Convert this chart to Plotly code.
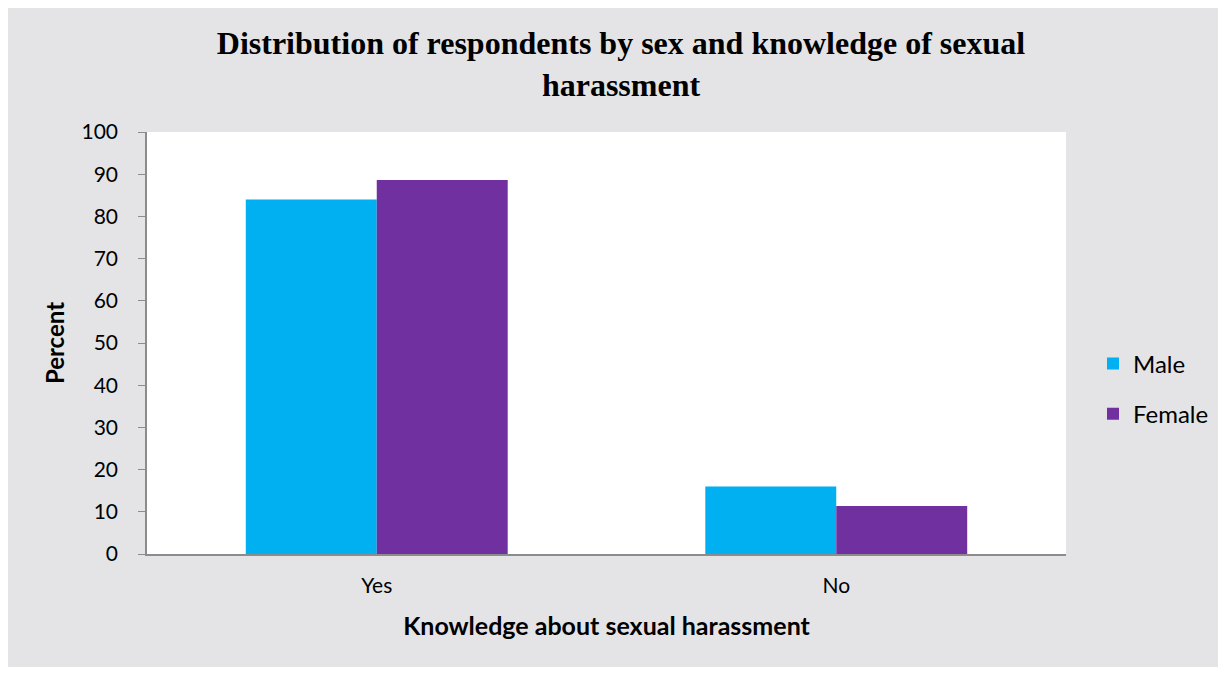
import plotly.graph_objects as go

categories = ["Yes", "No"]
male = [84.0, 16.0]
female = [88.6, 11.4]
y_ticks = list(range(0, 101, 10))

# page has an 8px body margin; keep the figure inside the window (no scrollbars)
OFF = 8
W, H = 1210, 659
L, R, T, B = 147 - OFF, (OFF + W) - 1066, 132 - OFF, (OFF + H) - 554

fig = go.Figure()
fig.add_trace(go.Bar(name="Male", x=categories, y=male, marker_color="#00b0f0",
                     marker_line_width=0, legendgroup="m"))
fig.add_trace(go.Bar(name="Female", x=categories, y=female, marker_color="#7030a0",
                     marker_line_width=0, legendgroup="f"))

fig.update_layout(
    width=W, height=H,
    margin=dict(l=L, r=R, t=T, b=B, autoexpand=False),
    paper_bgcolor="#e4e4e7",
    plot_bgcolor="white",
    barmode="group",
    bargap=0.43,
    bargroupgap=0,
    title=dict(
        text="<b>Distribution of respondents by sex and knowledge of sexual<br>harassment</b>",
        font=dict(family="Liberation Serif", size=32, color="black"),
        x=(621 - OFF) / W, xanchor="center",
        y=1 - (54 - OFF) / H, yanchor="middle",
    ),
    font=dict(family="Lato", size=21, color="black"),
    xaxis=dict(
        title=dict(text="<b>Knowledge about sexual harassment</b>", font=dict(size=25), standoff=22),
        showline=True, linecolor="#8c8c8c", linewidth=1.5,
        ticks="outside", ticklen=12, tickcolor="rgba(0,0,0,0)", tickfont=dict(size=21),
    ),
    yaxis=dict(
        title=dict(text="<b>Percent</b>", font=dict(size=24), standoff=10),
        range=[0, 100], tickvals=y_ticks,
        showline=True, linecolor="#8c8c8c", linewidth=1.5,
        ticks="outside", ticklen=7, tickcolor="#8c8c8c", ticklabelstandoff=16,
        showgrid=False, zeroline=False, tickfont=dict(size=21),
    ),
    legend=dict(xref="container", yref="container",
                x=(1093 - OFF) / W, y=1 - (389 - OFF) / H, xanchor="left", yanchor="middle",
                font=dict(size=24), tracegroupgap=16, bgcolor="rgba(0,0,0,0)",
                itemwidth=30),
)

fig.write_html("out.html")
